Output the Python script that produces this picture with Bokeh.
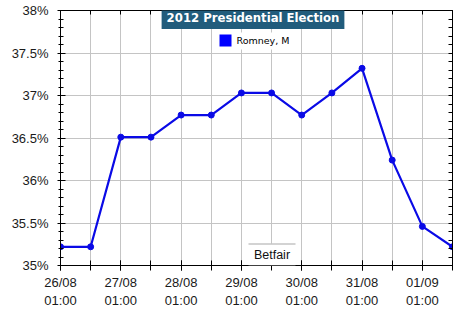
import pandas as pd
from bokeh.plotting import figure
from bokeh.models import (FixedTicker, LinearAxis, Label, BoxAnnotation,
                          Range1d, ColumnDataSource)
from bokeh.embed import file_html
from bokeh.resources import INLINE

# ---------------- data ----------------
times = ["2012-08-26 01:00", "2012-08-26 13:00", "2012-08-27 01:00", "2012-08-27 13:00",
         "2012-08-28 01:00", "2012-08-28 13:00", "2012-08-29 01:00", "2012-08-29 13:00",
         "2012-08-30 01:00", "2012-08-30 13:00", "2012-08-31 01:00", "2012-08-31 13:00",
         "2012-09-01 01:00", "2012-09-01 13:00"]
romney = [35.22, 35.22, 36.51, 36.51, 36.77, 36.77, 37.03, 37.03,
          36.77, 37.03, 37.32, 36.24, 35.46, 35.22]
series_name = "Romney, M"
title_text = "2012 Presidential Election"
source_text = "Betfair"

x_tick_times = ["2012-08-26 01:00", "2012-08-27 01:00", "2012-08-28 01:00", "2012-08-29 01:00",
                "2012-08-30 01:00", "2012-08-31 01:00", "2012-09-01 01:00"]
x_tick_labels = ["26/08\n01:00", "27/08\n01:00", "28/08\n01:00", "29/08\n01:00",
                 "30/08\n01:00", "31/08\n01:00", "01/09\n01:00"]
y_ticks = [35, 35.5, 36, 36.5, 37, 37.5, 38]
y_tick_labels = ["35%", "35.5%", "36%", "36.5%", "37%", "37.5%", "38%"]
y_minor_ticks = [35.1, 35.2, 35.3, 35.4, 35.6, 35.7, 35.8, 35.9,
                 36.1, 36.2, 36.3, 36.4, 36.6, 36.7, 36.8, 36.9,
                 37.1, 37.2, 37.3, 37.4, 37.6, 37.7, 37.8, 37.9]


def to_ms(lst):
    return [int(v) // 10**6 for v in pd.to_datetime(lst).astype("int64")]


t_dt = pd.to_datetime(times)
t_ms = to_ms(times)
xt_ms = to_ms(x_tick_times)

src = ColumnDataSource(dict(t=t_dt, v=romney))

p = figure(width=458, height=310, output_backend="svg", toolbar_location=None,
           x_axis_type="datetime",
           x_range=Range1d(t_dt[0], t_dt[-1]), y_range=Range1d(35, 38),
           min_border_left=60, min_border_right=6, min_border_top=10, min_border_bottom=42)
p.background_fill_color = "white"
p.border_fill_color = "white"
p.outline_line_color = "black"

AX_FONT = "Liberation Sans"

# bottom axis
xa = p.xaxis[0]
xa.ticker = FixedTicker(ticks=xt_ms, minor_ticks=t_ms)
xa.major_label_overrides = {k: lab for k, lab in zip(xt_ms, x_tick_labels)}
xa.major_tick_in = 5
xa.major_tick_out = 5
xa.minor_tick_in = 5
xa.minor_tick_out = 5
xa.axis_line_color = "black"
xa.major_tick_line_color = "black"
xa.minor_tick_line_color = "black"
xa.major_label_text_font = AX_FONT
xa.major_label_text_font_size = "13px"
xa.major_label_text_color = "#1a1a1a"
xa.major_label_standoff = 4

# left axis
ya = p.yaxis[0]
ya.ticker = FixedTicker(ticks=y_ticks, minor_ticks=y_minor_ticks)
ya.major_label_overrides = {k: lab for k, lab in zip(y_ticks, y_tick_labels)}
ya.major_tick_in = 5
ya.major_tick_out = 3
ya.minor_tick_in = 3
ya.minor_tick_out = 2
ya.axis_line_color = "black"
ya.major_tick_line_color = "black"
ya.minor_tick_line_color = "black"
ya.major_label_text_font = AX_FONT
ya.major_label_text_font_size = "13px"
ya.major_label_text_color = "#1a1a1a"
ya.major_label_standoff = 9

# top axis (ticks only)
top = LinearAxis(ticker=FixedTicker(ticks=[], minor_ticks=t_ms),
                 minor_tick_in=4, minor_tick_out=0, major_tick_in=0, major_tick_out=0,
                 axis_line_color="black", minor_tick_line_color="black",
                 major_label_standoff=0)
p.add_layout(top, "above")

# right axis (ticks only)
right = LinearAxis(ticker=FixedTicker(ticks=[], minor_ticks=y_ticks + y_minor_ticks),
                   minor_tick_in=4, minor_tick_out=0, major_tick_in=0, major_tick_out=0,
                   axis_line_color="black", minor_tick_line_color="black",
                   major_label_standoff=0)
p.add_layout(right, "right")

# grids
p.xgrid.ticker = FixedTicker(ticks=t_ms)
p.ygrid.ticker = FixedTicker(ticks=y_ticks)
p.xgrid.grid_line_color = "#c4c4c4"
p.ygrid.grid_line_color = "#c4c4c4"

# series
BLUE = "#0a0ae6"
p.line(x="t", y="v", source=src, line_color=BLUE, line_width=2.2)
p.scatter(x="t", y="v", source=src, marker="circle", size=6,
          fill_color=BLUE, line_color=BLUE)


def screen_box(l, r, b, t, color):
    return BoxAnnotation(left=l, right=r, bottom=b, top=t,
                         left_units="screen", right_units="screen",
                         top_units="screen", bottom_units="screen",
                         fill_color=color, fill_alpha=1, line_color=None)


# legend (white panel, blue swatch, label)
p.add_layout(screen_box(155, 236, 216, 233, "white"))
p.add_layout(screen_box(159, 171, 219, 231, "#0000ff"))
p.add_layout(Label(x=176, y=225, x_units="screen", y_units="screen", text=series_name,
                   text_align="left", text_baseline="middle", text_color="black",
                   text_font="DejaVu Sans", text_font_size="9.5px"))

# title box
p.add_layout(Label(x=192.5, y=247, x_units="screen", y_units="screen", text=title_text,
                   text_align="center", text_baseline="middle", text_color="white",
                   text_font="DejaVu Sans", text_font_style="bold", text_font_size="11.7px",
                   background_fill_color="#215c7c", background_fill_alpha=1,
                   padding=dict(left=5, right=5, top=3, bottom=4)))

# source box
p.add_layout(screen_box(188, 235, 0, 22, "white"))
p.add_layout(screen_box(188, 235, 21, 22, "#a8a8a8"))
p.add_layout(Label(x=211.5, y=11, x_units="screen", y_units="screen", text=source_text,
                   text_align="center", text_baseline="middle", text_color="#111111",
                   text_font=AX_FONT, text_font_size="12.5px"))

open("out.html", "w").write(file_html(p, INLINE))
